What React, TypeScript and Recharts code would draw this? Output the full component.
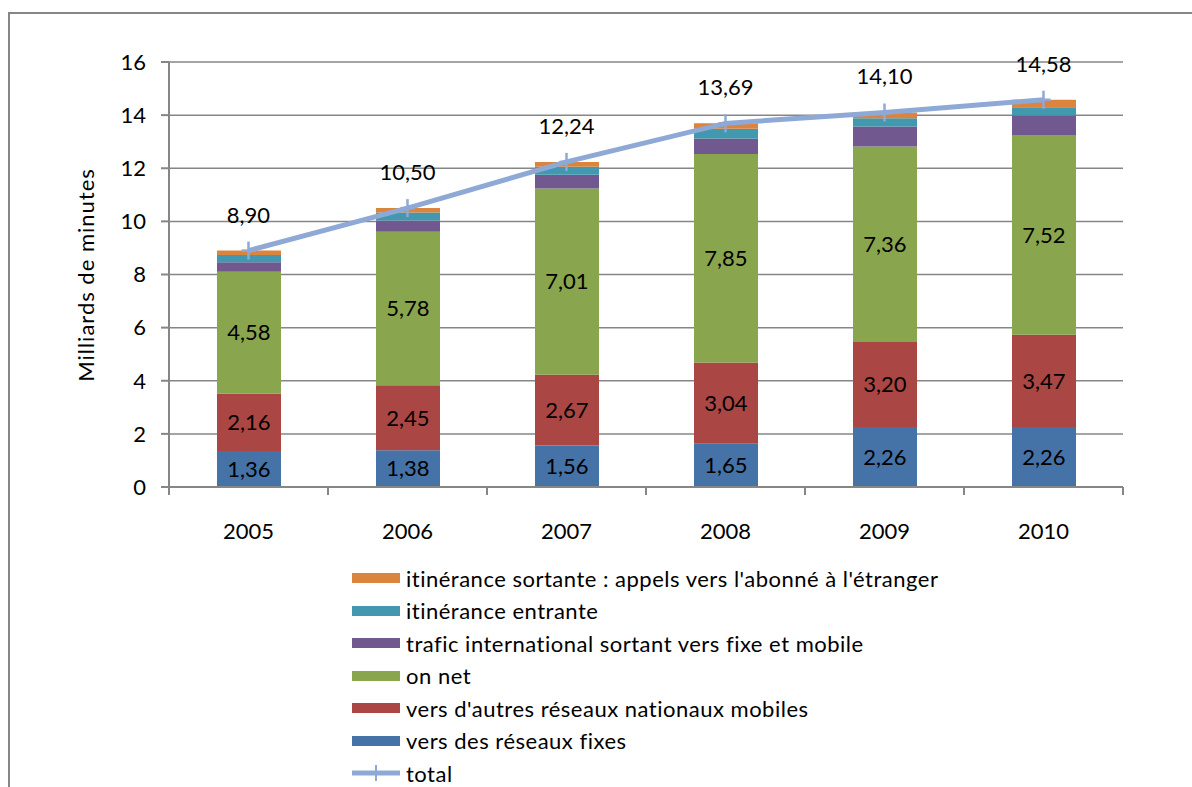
import React from 'react';
import { ComposedChart, Bar, Line, XAxis, YAxis, CartesianGrid, LabelList } from 'recharts';

const years = ['2005', '2006', '2007', '2008', '2009', '2010'];
const versFixes = [1.36, 1.38, 1.56, 1.65, 2.26, 2.26];
const versMobiles = [2.16, 2.45, 2.67, 3.04, 3.20, 3.47];
const onNet = [4.58, 5.78, 7.01, 7.85, 7.36, 7.52];
const international = [0.36, 0.42, 0.52, 0.58, 0.75, 0.74];
const itinEntrante = [0.27, 0.30, 0.30, 0.37, 0.31, 0.31];
const itinSortante = [0.17, 0.17, 0.18, 0.20, 0.22, 0.28];
const total = [8.90, 10.50, 12.24, 13.69, 14.10, 14.58];
const yTicks = [0, 2, 4, 6, 8, 10, 12, 14, 16];

const series = [
  { key: 'fixes', name: 'vers des réseaux fixes', color: '#4572A7', label: true },
  { key: 'mobiles', name: "vers d'autres réseaux nationaux mobiles", color: '#AA4643', label: true },
  { key: 'onnet', name: 'on net', color: '#89A54E', label: true },
  { key: 'intl', name: 'trafic international sortant vers fixe et mobile', color: '#71588F', label: false },
  { key: 'entrante', name: 'itinérance entrante', color: '#4198AF', label: false },
  { key: 'sortante', name: "itinérance sortante : appels vers l'abonné à l'étranger", color: '#DB843D', label: false },
];
const totalName = 'total';
const totalColor = '#8EA9D6';

const data = years.map((y, i) => ({
  year: y,
  fixes: versFixes[i],
  mobiles: versMobiles[i],
  onnet: onNet[i],
  intl: international[i],
  entrante: itinEntrante[i],
  sortante: itinSortante[i],
  total: total[i],
}));

const FONT = 'Lato, "Open Sans", sans-serif';
const fmt = (v: any) => Number(v).toFixed(2).replace('.', ',');

const XTick = (props: any) => {
  const { x, y, payload, index } = props;
  const half = 159 / 2;
  const ay = y - 8;
  return (
    <g>
      <line x1={x - half} y1={ay} x2={x - half} y2={ay + 8} stroke="#868686" strokeWidth={2} />
      {index === years.length - 1 && (
        <line x1={x + half} y1={ay} x2={x + half} y2={ay + 8} stroke="#868686" strokeWidth={2} />
      )}
      <text x={x} y={ay + 52} textAnchor="middle" fontSize={22} fontFamily={FONT} fill="#000">
        {payload.value}
      </text>
    </g>
  );
};

const PlusDot = (props: any) => {
  const { cx, cy } = props;
  if (cx == null || cy == null) return null;
  return (
    <g>
      <line x1={cx} y1={cy - 9} x2={cx} y2={cy + 9} stroke={totalColor} strokeWidth={2.5} />
      <line x1={cx - 7} y1={cy} x2={cx + 7} y2={cy} stroke={totalColor} strokeWidth={2.5} />
    </g>
  );
};

const legendItems = [...series].reverse();

export default function App() {
  return (
    <div style={{ position: 'fixed', left: 0, top: 0, width: 1192, height: 787, background: '#fff', overflow: 'hidden', fontFamily: FONT }}>
      <div style={{ position: 'absolute', left: 8, top: 12, width: 1300, height: 900, borderTop: '2px solid #868686', borderLeft: '2px solid #868686' }} />
      <div style={{ position: 'absolute', left: 0, top: 0 }}>
        <ComposedChart
          width={1192}
          height={787}
          data={data}
          margin={{ top: 62, right: 69, bottom: 260, left: 109 }}
          barCategoryGap={95}
        >
          <CartesianGrid vertical={false} stroke="#868686" strokeWidth={1.5} />
          <XAxis
            dataKey="year"
            axisLine={{ stroke: '#868686', strokeWidth: 2 }}
            tickLine={false}
            height={40}
            tick={<XTick />}
            interval={0}
          />
          <YAxis
            width={60}
            domain={[0, 16]}
            ticks={yTicks}
            axisLine={{ stroke: '#868686', strokeWidth: 2 }}
            tickLine={{ stroke: '#868686', strokeWidth: 2 }}
            tickSize={8}
            tickMargin={15}
            tick={{ fontSize: 22, fill: '#000', fontFamily: FONT }}
          />
          {series.map((s) => (
            <Bar key={s.key} dataKey={s.key} name={s.name} stackId="a" fill={s.color} barSize={64} isAnimationActive={false}>
              {s.label && (
                <LabelList dataKey={s.key} position="center" formatter={fmt} fill="#000" fontSize={22} fontFamily={FONT} />
              )}
            </Bar>
          ))}
          <Line
            dataKey="total"
            name={totalName}
            stroke={totalColor}
            strokeWidth={5}
            dot={<PlusDot />}
            activeDot={false}
            isAnimationActive={false}
          >
            <LabelList dataKey="total" position="top" offset={28} formatter={fmt} fill="#000" fontSize={22} fontFamily={FONT} />
          </Line>
        </ComposedChart>
      </div>
      <div
        style={{
          position: 'absolute',
          left: 85,
          top: 275,
          transform: 'translate(-50%, -50%) rotate(-90deg)',
          whiteSpace: 'nowrap',
          fontSize: 22,
          letterSpacing: 1,
          color: '#000',
        }}
      >
        Milliards de minutes
      </div>
      <div style={{ position: 'absolute', left: 352, top: 562 }}>
        {legendItems.map((s) => (
          <div key={s.key} style={{ display: 'flex', alignItems: 'center', height: 32.5, fontSize: 22, letterSpacing: 0.5, color: '#000' }}>
            <div style={{ width: 48, height: 10, background: s.color, marginRight: 6 }} />
            <span>{s.name}</span>
          </div>
        ))}
        <div style={{ display: 'flex', alignItems: 'center', height: 32.5, fontSize: 22, letterSpacing: 0.5, color: '#000' }}>
          <svg width={48} height={20} style={{ marginRight: 6 }}>
            <line x1={0} y1={10} x2={48} y2={10} stroke={totalColor} strokeWidth={5} />
            <line x1={24} y1={2} x2={24} y2={18} stroke={totalColor} strokeWidth={2} />
          </svg>
          <span>{totalName}</span>
        </div>
      </div>
    </div>
  );
}
